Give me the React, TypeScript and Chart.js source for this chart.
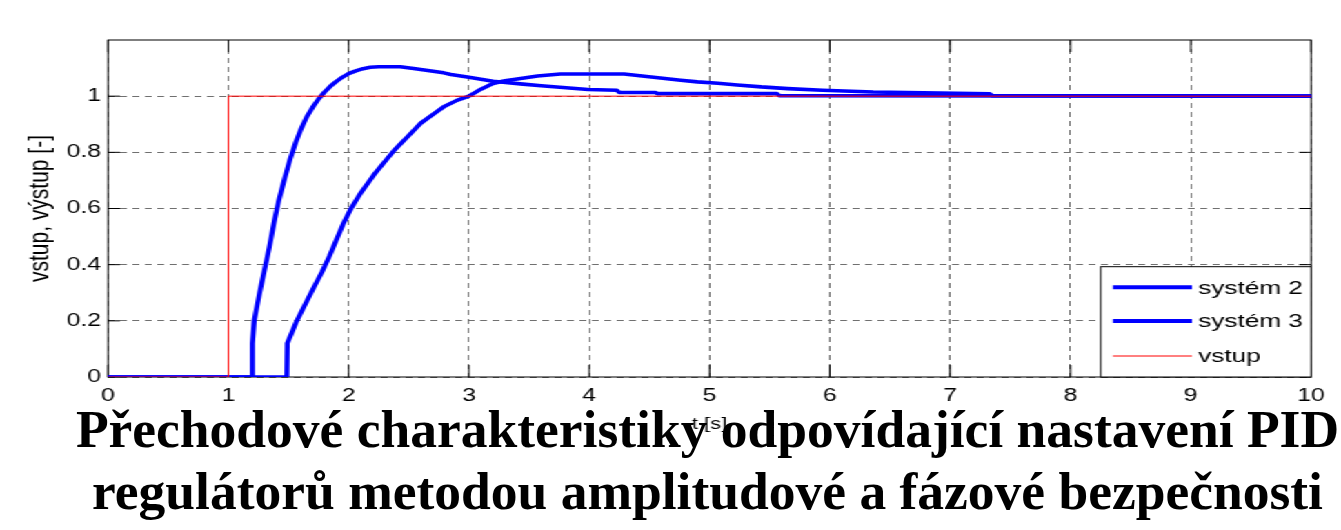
import React, { useEffect, useRef } from "react";
import { Chart, registerables } from "chart.js";

Chart.register(...registerables);

// Step responses of the two control loops and the unit step input
const sys2T = [0, 1.19, 1.2, 1.215, 1.26, 1.3, 1.34, 1.38, 1.42, 1.47, 1.513, 1.56, 1.6, 1.65, 1.7, 1.75, 1.8, 1.85, 1.9, 1.95, 2.0, 2.06, 2.12, 2.18, 2.25, 2.43, 2.57, 2.79, 2.85, 3.0, 3.2, 3.45, 3.6, 3.99, 4.23, 4.25, 4.55, 4.57, 5.56, 5.58, 10];
const sys2Y = [0, 0, 0.12, 0.2, 0.3, 0.38, 0.46, 0.55, 0.63, 0.71, 0.775, 0.835, 0.879, 0.925, 0.96, 0.99, 1.015, 1.036, 1.053, 1.068, 1.08, 1.09, 1.098, 1.103, 1.105, 1.105, 1.097, 1.083, 1.077, 1.067, 1.053, 1.043, 1.037, 1.024, 1.021, 1.013, 1.013, 1.009, 1.009, 1.002, 1.0];

const sys3T = [0, 1.486, 1.49, 1.52, 1.569, 1.7, 1.78, 1.84, 1.9, 1.96, 2.02, 2.1, 2.21, 2.38, 2.5, 2.6, 2.7, 2.79, 2.9, 3.0, 3.1, 3.2, 3.3, 3.43, 3.57, 3.76, 4.29, 4.44, 4.61, 4.76, 4.9, 5.07, 5.23, 5.43, 5.65, 5.94, 6.36, 7.33, 7.35, 10];
const sys3Y = [0, 0, 0.12, 0.15, 0.2, 0.31, 0.375, 0.43, 0.49, 0.55, 0.6, 0.655, 0.72, 0.808, 0.86, 0.904, 0.935, 0.962, 0.985, 1.0, 1.025, 1.045, 1.055, 1.063, 1.072, 1.079, 1.079, 1.072, 1.064, 1.057, 1.051, 1.046, 1.04, 1.033, 1.027, 1.021, 1.015, 1.008, 1.002, 1.0];

const inputT = [0, 1, 1, 10];
const inputY = [0, 0, 1, 1];

const seriesLabels = ["systém 2", "systém 3", "vstup"];
const xTickValues = [0, 1, 2, 3, 4, 5, 6, 7, 8, 9, 10];
const yTickValues = [0, 0.2, 0.4, 0.6, 0.8, 1];
const xAxisTitle = "t [s]";
const yAxisTitle = "vstup, výstup [-]";
const captionLines = [
  "Přechodové charakteristiky odpovídající nastavení PID",
  "regulátorů metodou amplitudové a fázové bezpečnosti",
];

// the figure is drawn narrow and stretched sideways
const INNER_W = 972;
const PAGE_W = 1341;
const PAGE_H = 530;
const STRETCH = PAGE_W / INNER_W;

const SANS = '"Liberation Sans", Arial, Helvetica, sans-serif';

const toPoints = (t: number[], y: number[]) => t.map((tv, i) => ({ x: tv, y: y[i] }));

// MATLAB-like axes box with inward tick marks
const axesFrame = {
  id: "axesFrame",
  beforeDatasetsDraw(chart: any) {
    const { ctx, chartArea: a, scales } = chart;
    const x = scales.x;
    const y = scales.y;
    ctx.save();
    ctx.strokeStyle = "#000";
    ctx.lineWidth = 1;
    ctx.beginPath();
    for (const t of x.ticks) {
      const px = x.getPixelForValue(t.value);
      ctx.moveTo(px, a.bottom);
      ctx.lineTo(px, a.bottom - 12);
      ctx.moveTo(px, a.top);
      ctx.lineTo(px, a.top + 12);
    }
    for (const t of y.ticks) {
      const py = y.getPixelForValue(t.value);
      ctx.moveTo(a.left, py);
      ctx.lineTo(a.left + 8.7, py);
      ctx.moveTo(a.right, py);
      ctx.lineTo(a.right - 8.7, py);
    }
    ctx.stroke();
    ctx.strokeRect(a.left, a.top, a.right - a.left, a.bottom - a.top);
    ctx.restore();
  },
};

// boxed legend in the lower right corner of the axes
const boxedLegend = {
  id: "boxedLegend",
  afterDraw(chart: any) {
    const { ctx, chartArea: a } = chart;
    const w = 152.5;
    const h = 110.3;
    const left = a.right - w;
    const top = a.bottom - h;
    ctx.save();
    ctx.fillStyle = "#fff";
    ctx.fillRect(left, top, w, h);
    ctx.strokeStyle = "#000";
    ctx.lineWidth = 1;
    ctx.strokeRect(left, top, w, h);
    const rows = [20.6, 54.3, 89.3];
    ctx.font = `19px ${SANS}`;
    ctx.textBaseline = "middle";
    ctx.textAlign = "left";
    chart.data.datasets.forEach((ds: any, i: number) => {
      const yy = top + rows[i];
      ctx.strokeStyle = ds.borderColor;
      ctx.lineWidth = ds.legendLineWidth;
      ctx.beginPath();
      ctx.moveTo(left + 8.9, yy);
      ctx.lineTo(left + 66.2, yy);
      ctx.stroke();
      ctx.fillStyle = "#000";
      ctx.fillText(ds.label, left + 70.6, yy + 1);
    });
    ctx.restore();
  },
};

export default function App() {
  const canvasRef = useRef<HTMLCanvasElement | null>(null);

  useEffect(() => {
    const canvas = canvasRef.current;
    if (!canvas) return;
    const gridColor = "#707070";
    const chart = new Chart(canvas, {
      type: "line",
      data: {
        datasets: [
          {
            label: seriesLabels[0],
            data: toPoints(sys2T, sys2Y),
            borderColor: "#0000ff",
            borderWidth: 3.6,
            legendLineWidth: 4,
            pointRadius: 0,
            tension: 0,
            borderJoinStyle: "round",
            borderCapStyle: "round",
            order: 2,
          } as any,
          {
            label: seriesLabels[1],
            data: toPoints(sys3T, sys3Y),
            borderColor: "#0000ff",
            borderWidth: 3.6,
            legendLineWidth: 4,
            pointRadius: 0,
            tension: 0,
            borderJoinStyle: "round",
            borderCapStyle: "round",
            order: 1,
          } as any,
          {
            label: seriesLabels[2],
            data: toPoints(inputT, inputY),
            borderColor: "#ff0000",
            borderWidth: 1,
            legendLineWidth: 1,
            pointRadius: 0,
            tension: 0,
            order: 0,
          } as any,
        ],
      },
      options: {
        animation: false,
        responsive: true,
        maintainAspectRatio: false,
        layout: { padding: { top: 40, right: INNER_W - 950.3, left: 0, bottom: 0 } },
        plugins: {
          legend: { display: false },
          tooltip: { enabled: false },
          title: { display: false },
        },
        scales: {
          x: {
            type: "linear",
            min: 0,
            max: 10,
            afterBuildTicks: (scale: any) => {
              scale.ticks = xTickValues.map((value) => ({ value }));
            },
            afterFit: (scale: any) => {
              scale.height = PAGE_H - 377;
            },
            ticks: {
              padding: 8,
              color: "#000",
              font: { family: SANS, size: 18 },
              maxRotation: 0,
              autoSkip: false,
              callback: (v: any) => String(v),
            },
            grid: { color: gridColor, lineWidth: 1, drawTicks: false },
            border: { display: false, dash: [5, 4] },
            title: {
              display: true,
              text: xAxisTitle,
              color: "#000",
              font: { family: SANS, size: 16 },
              padding: { top: 0, bottom: 96 },
            },
          },
          y: {
            type: "linear",
            min: 0,
            max: 1.2,
            afterBuildTicks: (scale: any) => {
              scale.ticks = yTickValues.map((value) => ({ value }));
            },
            afterFit: (scale: any) => {
              scale.width = 78.3;
            },
            ticks: {
              padding: 5,
              color: "#000",
              font: { family: SANS, size: 18 },
              autoSkip: false,
              callback: (v: any) => String(+Number(v).toFixed(1)),
            },
            grid: { color: gridColor, lineWidth: 1, drawTicks: false },
            border: { display: false, dash: [5, 4] },
            title: {
              display: true,
              text: yAxisTitle,
              color: "#000",
              font: { family: SANS, size: 21 },
              padding: { top: 17, bottom: 0 },
            },
          },
        },
      } as any,
      plugins: [axesFrame, boxedLegend],
    });
    return () => chart.destroy();
  }, []);

  return (
    <>
      <div
        style={{
          position: "fixed",
          left: 0,
          top: 0,
          width: INNER_W,
          height: PAGE_H,
          transform: `scaleX(${STRETCH})`,
          transformOrigin: "0 0",
          background: "#fff",
        }}
      >
        <canvas ref={canvasRef} />
      </div>
      <div
        style={{
          position: "fixed",
          left: 74,
          top: 398,
          width: 1267,
          textAlign: "center",
          fontFamily: '"Liberation Serif", "Times New Roman", serif',
          fontWeight: "bold",
          fontSize: 53.5,
          lineHeight: "62px",
          whiteSpace: "nowrap",
          color: "#000",
        }}
      >
        {captionLines.map((line) => (
          <div key={line}>{line}</div>
        ))}
      </div>
    </>
  );
}
